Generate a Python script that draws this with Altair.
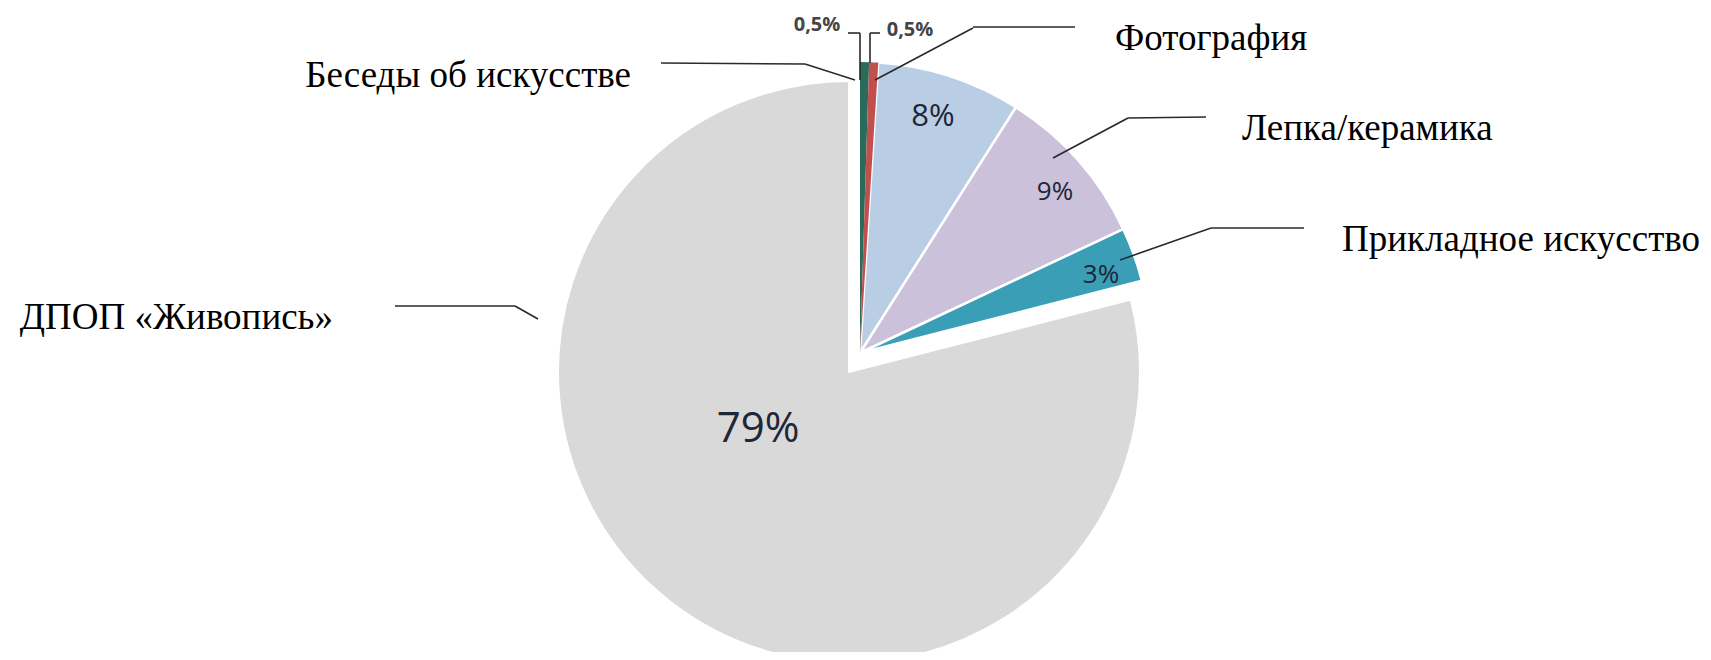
import math
import altair as alt
import pandas as pd

# ---------------- data ----------------
slice_names = ["Беседы об искусстве", "Фотография", "(без подписи)",
               "Лепка/керамика", "Прикладное искусство", "ДПОП «Живопись»"]
slice_values = [0.5, 0.5, 8, 9, 3, 79]
slice_colors = ["#2b6b5b", "#c0504d", "#b9cde5", "#ccc1da", "#3a9fb6", "#d9d9d9"]
pct_labels = ["0,5%", "0,5%", "8%", "9%", "3%", "79%"]

# ---------------- layout (pixels, page coords) ----------------
OFF = 8
W, H = 1711 - 2 * OFF, 660 - 2 * OFF
R = 291
small_cx, small_cy = 860 - OFF, 353 - OFF
big_cx, big_cy = 849 - OFF, 372 - OFF

pct_x = [817, 910, 933, 1055, 1101, 758]
pct_y = [25, 30, 117, 192, 275, 429]
pct_size = [20, 20, 31, 26, 26, 42]

cat_text = ["Беседы об искусстве", "Фотография", "Лепка/керамика",
            "Прикладное искусство", "ДПОП «Живопись»"]
cat_x = [631, 1115, 1242, 1342, 333]
cat_y = [76, 39, 129, 240, 318]
cat_align = ["right", "left", "left", "left", "right"]

seg_x = [661, 805, 973, 973, 848, 860, 870, 870, 1128, 1128, 1211, 1211, 395, 515]
seg_y = [63, 64, 27, 28, 33, 33, 33, 33, 118, 118, 228, 228, 306, 306]
seg_x2 = [805, 855, 1075, 875, 860, 860, 880, 870, 1206, 1053, 1304, 1120, 515, 538]
seg_y2 = [64, 80, 27, 80, 33, 80, 33, 63, 117, 158, 228, 260, 306, 319]

# ---------------- tables ----------------
ends = []
acc = 0.0
for v in slice_values:
    acc += v
    ends.append(acc)
starts = [e - v for e, v in zip(ends, slice_values)]
slices = pd.DataFrame({"name": slice_names, "value": slice_values,
                       "start": starts, "end": ends, "color": slice_colors})

pcts = pd.DataFrame({"label": pct_labels, "x": [v - OFF for v in pct_x],
                     "y": [v - OFF for v in pct_y], "size": pct_size})
cats = pd.DataFrame({"label": cat_text, "x": [v - OFF for v in cat_x],
                     "y": [v - OFF for v in cat_y], "align": cat_align})
segs = pd.DataFrame({"x": [v - OFF for v in seg_x], "y": [v - OFF for v in seg_y],
                     "x2": [v - OFF for v in seg_x2], "y2": [v - OFF for v in seg_y2]})

theta_scale = alt.Scale(domain=[0, 100], range=[0, 2 * math.pi])

base = alt.Chart(slices)

big = base.transform_filter(alt.datum.value > 50).mark_arc(
    outerRadius=R, stroke="white", strokeWidth=2
).encode(
    theta=alt.Theta("start:Q", scale=theta_scale), theta2="end:Q",
    color=alt.Color("color:N", scale=None),
    x=alt.value(big_cx), y=alt.value(big_cy),
)

mid = base.transform_filter((alt.datum.value > 1) & (alt.datum.value < 50)).mark_arc(
    outerRadius=R, stroke="white", strokeWidth=2.5
).encode(
    theta=alt.Theta("start:Q", scale=theta_scale), theta2="end:Q",
    color=alt.Color("color:N", scale=None),
    x=alt.value(small_cx), y=alt.value(small_cy),
)

tiny = base.transform_filter(alt.datum.value <= 1).mark_arc(
    outerRadius=R
).encode(
    theta=alt.Theta("start:Q", scale=theta_scale), theta2="end:Q",
    color=alt.Color("color:N", scale=None),
    x=alt.value(small_cx), y=alt.value(small_cy),
)

lines = alt.Chart(segs).mark_rule(color="#2a2a2a", strokeWidth=1.6).encode(
    x=alt.X("x:Q", scale=None), y=alt.Y("y:Q", scale=None),
    x2="x2:Q", y2="y2:Q",
)

small_pct = alt.Chart(pcts).transform_filter(alt.datum.size < 24).mark_text(
    font="Open Sans", fontWeight="bold", color="#454545", baseline="middle", align="center"
).encode(
    x=alt.X("x:Q", scale=None), y=alt.Y("y:Q", scale=None),
    text="label:N", size=alt.Size("size:Q", scale=None),
)

in_pct = alt.Chart(pcts).transform_filter(alt.datum.size >= 24).mark_text(
    font="Open Sans", color="#1f2636", baseline="middle", align="center"
).encode(
    x=alt.X("x:Q", scale=None), y=alt.Y("y:Q", scale=None),
    text="label:N", size=alt.Size("size:Q", scale=None),
)

cat_left = alt.Chart(cats).transform_filter(alt.datum.align == "left").mark_text(
    font="Liberation Serif", fontSize=37, color="#000000", baseline="middle", align="left"
).encode(
    x=alt.X("x:Q", scale=None), y=alt.Y("y:Q", scale=None), text="label:N",
)
cat_right = alt.Chart(cats).transform_filter(alt.datum.align == "right").mark_text(
    font="Liberation Serif", fontSize=37, color="#000000", baseline="middle", align="right"
).encode(
    x=alt.X("x:Q", scale=None), y=alt.Y("y:Q", scale=None), text="label:N",
)

chart = alt.layer(big, mid, tiny, lines, small_pct, in_pct, cat_left, cat_right).properties(
    width=W, height=H, padding=0, autosize=alt.AutoSizeParams(type="none")
).configure_view(stroke=None)

chart.save("out.html", embed_options={"renderer": "svg", "actions": False})
